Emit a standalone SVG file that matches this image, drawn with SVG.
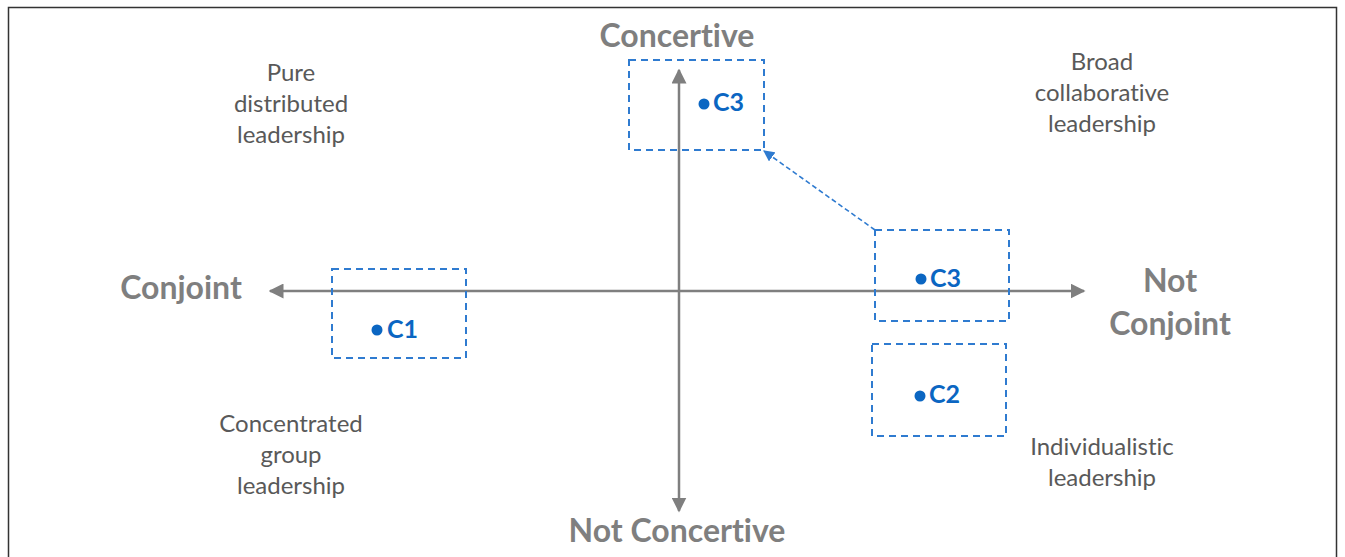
<svg xmlns="http://www.w3.org/2000/svg" width="1345" height="557" viewBox="0 0 1345 557">
<defs>
<style>
text{font-variant-ligatures:none}
.q{font-family:Lato,"Open Sans","Liberation Sans",sans-serif;font-size:24px;fill:#595959;text-anchor:middle}
.ax{font-family:Lato,"Open Sans","Liberation Sans",sans-serif;font-size:32px;font-weight:bold;fill:#7f7f7f;text-anchor:middle}
.lbl{font-family:Lato,"Open Sans","Liberation Sans",sans-serif;font-size:25px;font-weight:bold;fill:#0b66c2}
.box{fill:none;stroke:#2f7bd0;stroke-width:2;stroke-dasharray:7 5}
.axis{stroke:#7f7f7f;stroke-width:2.5;fill:none}
.dot{fill:#0b66c2}
</style>
<marker id="ah" viewBox="0 0 10 10" refX="9" refY="5" markerWidth="6" markerHeight="6" markerUnits="strokeWidth" orient="auto-start-reverse">
<path d="M0,0 L10,5 L0,10 z" fill="#7f7f7f"/>
</marker>
<marker id="bh" viewBox="0 0 10 10" refX="9" refY="5" markerWidth="7" markerHeight="7" markerUnits="strokeWidth" orient="auto">
<path d="M0,0 L10,5 L0,10 z" fill="#2f7bd0"/>
</marker>
</defs>
<rect x="0" y="0" width="1345" height="557" fill="#ffffff"/>
<rect x="8.5" y="7.5" width="1328" height="570" fill="none" stroke="#333333" stroke-width="1.5"/>
<g id="connectors">
<line class="axis" x1="679" y1="511" x2="679" y2="70" marker-start="url(#ah)" marker-end="url(#ah)"/>
<line class="axis" x1="270" y1="291" x2="1084" y2="291" marker-start="url(#ah)" marker-end="url(#ah)"/>
<line x1="875" y1="230" x2="764" y2="151" stroke="#2f7bd0" stroke-width="1.6" stroke-dasharray="5 3" marker-end="url(#bh)"/>
</g>
<g id="axis-labels">
<text class="ax" x="677" y="47">Concertive</text>
<text class="ax" x="677" y="542">Not Concertive</text>
<text class="ax" x="181" y="299">Conjoint</text>
<text class="ax" x="1170" y="292">Not</text>
<text class="ax" x="1170" y="335">Conjoint</text>
</g>
<g id="quadrant-pure">
<text class="q" x="291" y="81">Pure</text>
<text class="q" x="291" y="112">distributed</text>
<text class="q" x="291" y="143">leadership</text>
</g>
<g id="quadrant-broad">
<text class="q" x="1102" y="70">Broad</text>
<text class="q" x="1102" y="101">collaborative</text>
<text class="q" x="1102" y="132">leadership</text>
</g>
<g id="quadrant-concentrated">
<text class="q" x="291" y="432">Concentrated</text>
<text class="q" x="291" y="463">group</text>
<text class="q" x="291" y="494">leadership</text>
</g>
<g id="quadrant-individualistic">
<text class="q" x="1102" y="455">Individualistic</text>
<text class="q" x="1102" y="486">leadership</text>
</g>
<g id="node-c3-top">
<rect class="box" x="629" y="60" width="135" height="90"/>
<circle class="dot" cx="704" cy="104" r="5.5"/>
<text class="lbl" x="713" y="111">C3</text>
</g>
<g id="node-c3-right">
<rect class="box" x="875" y="230" width="134" height="91"/>
<circle class="dot" cx="921" cy="279" r="5.5"/>
<text class="lbl" x="930" y="287">C3</text>
</g>
<g id="node-c1">
<rect class="box" x="332" y="269" width="134" height="89"/>
<circle class="dot" cx="377" cy="330" r="5.5"/>
<text class="lbl" x="387" y="338">C1</text>
</g>
<g id="node-c2">
<rect class="box" x="872" y="344" width="134" height="92"/>
<circle class="dot" cx="920" cy="396" r="5.5"/>
<text class="lbl" x="929" y="403">C2</text>
</g>
</svg>
